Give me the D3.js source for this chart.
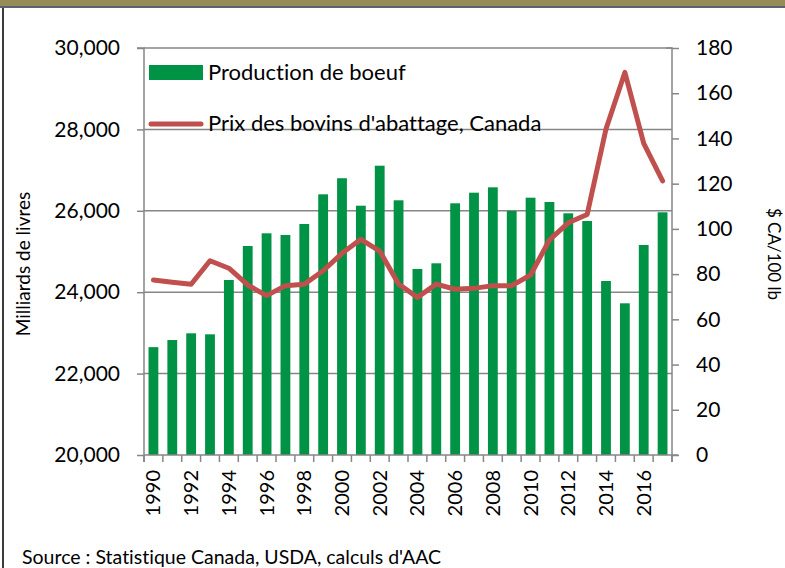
<!DOCTYPE html>
<html><head><meta charset="utf-8">
<script src="https://cdn.jsdelivr.net/npm/d3@7"></script>
<style>
body{margin:0;background:#fff;}
text{font-family:Lato,"Open Sans",sans-serif;fill:#000;font-variant-ligatures:none;font-feature-settings:"liga" 0,"clig" 0;}
</style></head>
<body><svg id="c" width="785" height="568"></svg>
<script>
const years = d3.range(1990, 2018);
const production = [22650,22825,22990,22965,24300,25135,25447,25405,25676,26405,26800,26125,27108,26258,24570,24710,26184,26445,26577,25995,26322,26216,25938,25749,24275,23727,25160,25963];
const price = [77.4,76.4,75.5,85.9,82.6,75.2,70.5,74.9,75.5,81.5,89.2,95.4,90.2,75.6,69.7,75.6,73.3,73.7,74.9,74.9,79.6,95.1,102.7,106.4,144.2,169.2,137.8,121.2];
const leftTicks = [20000,22000,24000,26000,28000,30000];
const rightTicks = [0,20,40,60,80,100,120,140,160,180];
const xLabelYears = [1990,1992,1994,1996,1998,2000,2002,2004,2006,2008,2010,2012,2014,2016];
const seriesNames = ["Production de boeuf","Prix des bovins d'abattage, Canada"];

const svg = d3.select("#c");
// frame
svg.append("rect").attr("x",0).attr("y",0).attr("width",785).attr("height",6).attr("fill","#968C55");
svg.append("rect").attr("x",0).attr("y",6).attr("width",785).attr("height",2).attr("fill","#5E6270");
svg.append("rect").attr("x",2).attr("y",8).attr("width",2).attr("height",560).attr("fill","#3a3a3a");

const L=144, R=672, T=48, B=455;
const x = d3.scaleBand().domain(years).range([L,R]).paddingInner(0.48).paddingOuter(0.24);
const xb = d3.scaleLinear().domain([0,years.length]).range([L,R]);
const yL = d3.scaleLinear().domain([20000,30000]).range([B,T]);
const yR = d3.scaleLinear().domain([0,180]).range([B,T]);
const axisColor="#868686";

// gridlines
svg.append("g").selectAll("line").data(leftTicks.slice(1)).join("line")
  .attr("x1",L).attr("x2",R).attr("y1",d=>yL(d)).attr("y2",d=>yL(d))
  .attr("stroke",axisColor).attr("stroke-width",1.5);

// bars
svg.append("g").selectAll("rect").data(production).join("rect")
  .attr("x",(d,i)=>x(years[i])).attr("width",x.bandwidth())
  .attr("y",d=>yL(d)).attr("height",d=>B-yL(d))
  .attr("fill","#009245");

// line
const line = d3.line().x((d,i)=>x(years[i])+x.bandwidth()/2).y(d=>yR(d));
svg.append("path").datum(price).attr("d",line).attr("fill","none")
  .attr("stroke","#C0504D").attr("stroke-width",5).attr("stroke-linejoin","round").attr("stroke-linecap","round");

// left axis
const gl = svg.append("g").attr("transform",`translate(${L},0)`)
  .call(d3.axisLeft(yL).tickValues(leftTicks).tickFormat(d3.format(",")).tickSize(7).tickPadding(17));
// right axis
const gr = svg.append("g").attr("transform",`translate(${R},0)`)
  .call(d3.axisRight(yR).tickValues(rightTicks).tickSize(7).tickPadding(17));
// bottom axis
const gb = svg.append("g").attr("transform",`translate(0,${B})`);
gb.append("line").attr("x1",L).attr("x2",R+6).attr("y1",0).attr("y2",0).attr("stroke",axisColor).attr("stroke-width",1.5);
gb.selectAll("line.t").data(d3.range(0,years.length+1)).join("line").attr("class","t")
  .attr("x1",d=>xb(d)).attr("x2",d=>xb(d)).attr("y1",0).attr("y2",7).attr("stroke",axisColor).attr("stroke-width",1.5);
gb.selectAll("text").data(xLabelYears).join("text")
  .attr("transform",d=>`translate(${x(d)+x.bandwidth()/2+7},15) rotate(-90)`)
  .attr("text-anchor","end").style("font-size","20px").text(d=>d);

[gl,gr].forEach(g=>{
  g.select(".domain").attr("stroke",axisColor).attr("stroke-width",1.5);
  g.selectAll(".tick line").attr("stroke",axisColor).attr("stroke-width",1.5);
  g.selectAll(".tick text").style("font-size","21px").attr("fill","#000").style("font-family","Lato,sans-serif");
});
gl.select(".domain").attr("d",`M-7,${T}H0V${B+7}`);
gr.select(".domain").attr("d",`M-6,${T}H0V${B+7}`);

// axis titles
svg.append("text").attr("transform","translate(30,264) rotate(-90)").attr("text-anchor","middle")
  .style("font-size","19px").text("Milliards de livres");
svg.append("text").attr("transform","translate(768,254) rotate(90)").attr("text-anchor","middle")
  .style("font-size","17px").text("$ CA/100 lb");

// legend
svg.append("rect").attr("x",149).attr("y",65).attr("width",54).attr("height",15).attr("fill","#009245");
svg.append("text").attr("x",208).attr("y",80).style("font-size","22px").text(seriesNames[0]);
svg.append("line").attr("x1",151).attr("x2",201).attr("y1",124).attr("y2",124)
  .attr("stroke","#C0504D").attr("stroke-width",5).attr("stroke-linecap","round");
svg.append("text").attr("x",208).attr("y",131).style("font-size","22px").text(seriesNames[1]);

// source
svg.append("text").attr("x",22).attr("y",564).style("font-size","19.5px").text("Source : Statistique Canada, USDA, calculs d'AAC");
</script></body></html>
